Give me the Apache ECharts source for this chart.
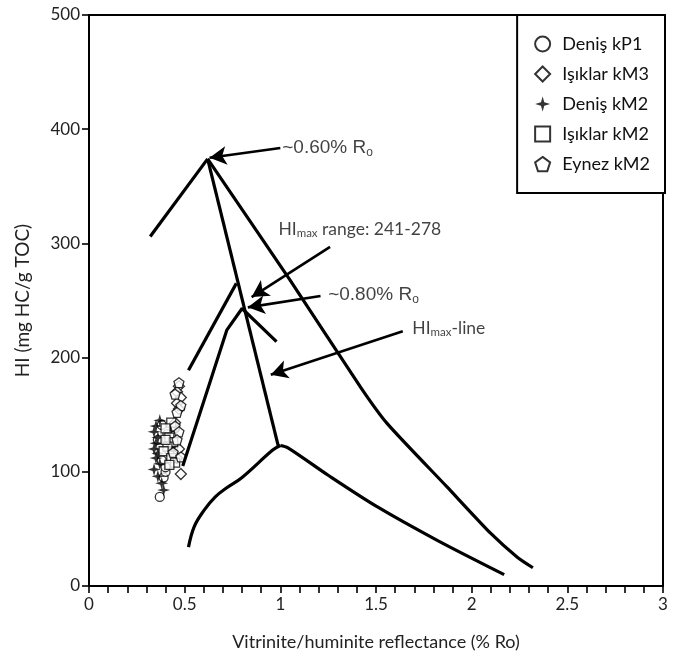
<!DOCTYPE html>
<html>
<head>
<meta charset="utf-8">
<script src="https://cdn.jsdelivr.net/npm/echarts@6/dist/echarts.min.js"></script>
<style>
  html, body { margin: 0; padding: 0; background: #fff; }
  #chart { width: 684px; height: 661px; }
</style>
</head>
<body>
<div id="chart"></div>
<script>
// Axis tick labels
const xTickLabels = ['0', '0.5', '1', '1.5', '2', '2.5', '3'];
const yTickLabels = ['0', '100', '200', '300', '400', '500'];

// Sample groups: [Ro %, HI]
const denisKP1 = [[0.37,78],[0.39,95],[0.40,100],[0.40,104],[0.38,110],[0.42,118],[0.44,122],[0.36,128],[0.41,133],[0.45,138],[0.38,141],[0.43,125]];
const isiklarKM3 = [[0.47,175],[0.46,170],[0.48,165],[0.46,160],[0.47,155],[0.48,98],[0.46,112],[0.44,131],[0.45,143],[0.47,120]];
const denisKM2 = [[0.35,140],[0.34,135],[0.36,130],[0.35,125],[0.34,120],[0.36,116],[0.35,112],[0.37,107],[0.34,102],[0.36,96],[0.38,90],[0.39,84],[0.37,145]];
const isiklarKM2 = [[0.43,143],[0.40,138],[0.42,130],[0.44,126],[0.41,122],[0.39,118],[0.43,112],[0.45,108],[0.40,128],[0.42,106]];
const eynezKM2 = [[0.47,178],[0.45,168],[0.48,158],[0.46,152],[0.45,140],[0.47,135],[0.46,128],[0.44,117],[0.48,113]];

// Maturation trend lines: [Ro %, HI]
const upperLeftArm = [[0.32,306],[0.62,374]];
const hiMaxLine = [[0.62,374],[0.99,122]];
const upperRightArm = [[0.62,374],[1.05,268],[1.42,174],[1.56,142],[1.87,87],[2.1,46],[2.24,25],[2.32,16]];
const lowerLeftArm = [[0.52,34],[0.55,52],[0.60,66],[0.66,78],[0.72,86],[0.80,95],[0.96,119],[1.0,123]];
const lowerRightArm = [[1.0,123],[1.04,121],[1.25,97],[1.51,69],[1.82,40],[2.17,10]];
const rangeLineB = [[0.49,105],[0.62,172],[0.72,224],[0.80,243],[0.98,214]];
const rangeLineC = [[0.52,189],[0.77,265]];

// Annotation arrows: [from, to]
const arrowLines = [
  [[1.0,383.5],[0.63,375]],
  [[1.26,297],[0.85,253]],
  [[1.21,254],[0.83,244]],
  [[1.64,223],[0.95,185]]
];
// Annotation texts: [Ro %, HI, text, style]
const annotations = [
  [1.01,383.5,'~0.60% R{o|o}','a'],
  [0.99,312,'HI{m|max} range: 241-278','c'],
  [1.25,255,'~0.80% R{o|o}','a'],
  [1.69,226,'HI{m|max}-line','c']
];

const starPath = 'path://M0,-10 L2.2,-2.2 L10,0 L2.2,2.2 L0,10 L-2.2,2.2 L-10,0 L-2.2,-2.2 Z';
const pentagonPath = 'path://M0,-10 L9.51,-3.09 L5.88,8.09 L-5.88,8.09 L-9.51,-3.09 Z';

const hollow = { color: '#fff', borderColor: '#000', borderWidth: 1.3 };
const textColor = '#222';
const noteColor = '#111';
const bodyFont = 'Lato, "Open Sans", sans-serif';
const sansFont = '"Liberation Sans", Arial, sans-serif';

function trend(name, data, smooth) {
  return { name, type: 'line', data, symbol: 'none', smooth: smooth || false,
    lineStyle: { color: '#000', width: 3.2 }, silent: true, z: 3 };
}
function group(name, data, symbol, size, style) {
  return { name, type: 'scatter', data, symbol, symbolSize: size, itemStyle: style, z: 2 };
}
const legendIcon = { borderWidth: 2 };

const chart = echarts.init(document.getElementById('chart'));
chart.setOption({
  animation: false,
  backgroundColor: '#fff',
  grid: { left: 89, right: 21, top: 15, bottom: 75, show: true, borderColor: '#000', borderWidth: 2 },
  xAxis: {
    type: 'value', min: 0, max: 3, interval: 0.5,
    name: 'Vitrinite/huminite reflectance (% Ro)', nameLocation: 'middle', nameGap: 47,
    nameTextStyle: { fontFamily: bodyFont, fontSize: 18, color: textColor },
    axisLine: { onZero: false, lineStyle: { color: '#000', width: 2 } },
    axisTick: { length: 7, lineStyle: { color: '#000', width: 1.6 } },
    minorTick: { show: true, splitNumber: 5, length: 7, lineStyle: { color: '#000', width: 1.6 } },
    splitLine: { show: false },
    axisLabel: { margin: 10, fontFamily: bodyFont, fontSize: 17, color: textColor,
      formatter: (v, i) => xTickLabels[i] }
  },
  yAxis: {
    type: 'value', min: 0, max: 500, interval: 100,
    name: 'HI (mg HC/g TOC)', nameLocation: 'middle', nameGap: 57,
    nameTextStyle: { fontFamily: bodyFont, fontSize: 19, color: textColor },
    axisLine: { onZero: false, lineStyle: { color: '#000', width: 2 } },
    axisTick: { length: 7, lineStyle: { color: '#000', width: 1.6 } },
    splitLine: { show: false },
    axisLabel: { margin: 9, fontFamily: bodyFont, fontSize: 17, color: textColor,
      formatter: (v, i) => yTickLabels[i] }
  },
  legend: {
    orient: 'vertical', right: 19, top: 15,
    backgroundColor: '#fff', borderColor: '#000', borderWidth: 2,
    padding: [20, 15, 20, 17], itemGap: 12, itemWidth: 15, itemHeight: 15,
    textStyle: { fontFamily: bodyFont, fontSize: 18, color: '#111', padding: [0, 0, 0, 7] },
    data: [
      { name: 'Deniş kP1', icon: 'circle', itemStyle: legendIcon },
      { name: 'Işıklar kM3', icon: 'diamond', itemStyle: legendIcon },
      { name: 'Deniş kM2', icon: starPath },
      { name: 'Işıklar kM2', icon: 'rect', itemStyle: legendIcon },
      { name: 'Eynez kM2', icon: pentagonPath, itemStyle: legendIcon }
    ]
  },
  series: [
    group('Deniş kP1', denisKP1, 'circle', 9, hollow),
    group('Işıklar kM3', isiklarKM3, 'diamond', 11, hollow),
    group('Deniş kM2', denisKM2, starPath, 13, { color: '#000' }),
    group('Işıklar kM2', isiklarKM2, 'rect', 9, hollow),
    group('Eynez kM2', eynezKM2, pentagonPath, 10, hollow),
    trend('upperLeftArm', upperLeftArm),
    trend('hiMaxLine', hiMaxLine),
    trend('upperRightArm', upperRightArm, 0.2),
    trend('lowerLeftArm', lowerLeftArm, 0.4),
    trend('lowerRightArm', lowerRightArm, 0.3),
    trend('rangeLineB', rangeLineB),
    trend('rangeLineC', rangeLineC),
    {
      name: 'arrows', type: 'line', data: [], silent: true, z: 4,
      markLine: {
        silent: true, animation: false,
        symbol: ['none', 'arrow'], symbolSize: [14, 17],
        lineStyle: { color: '#000', width: 2.6, type: 'solid' },
        label: { show: false },
        data: arrowLines.map(([a, b]) => [{ coord: a }, { coord: b }])
      }
    },
    {
      name: 'notes', type: 'scatter', symbolSize: 0, silent: true, z: 5,
      data: annotations.map(a => ({
        value: [a[0], a[1]], text: a[2],
        label: a[3] === 'a'
          ? { fontFamily: sansFont, fontSize: 19, lineHeight: 22 }
          : { fontFamily: bodyFont, fontSize: 17.5, lineHeight: 20 }
      })),
      label: {
        show: true, position: 'right', distance: 0, color: noteColor,
        formatter: p => p.data.text,
        rich: {
          o: { fontFamily: sansFont, fontSize: 12, color: noteColor, verticalAlign: 'bottom', lineHeight: 15 },
          m: { fontFamily: bodyFont, fontSize: 11.5, color: noteColor, verticalAlign: 'bottom', lineHeight: 17 }
        }
      }
    }
  ]
});
</script>
</body>
</html>
